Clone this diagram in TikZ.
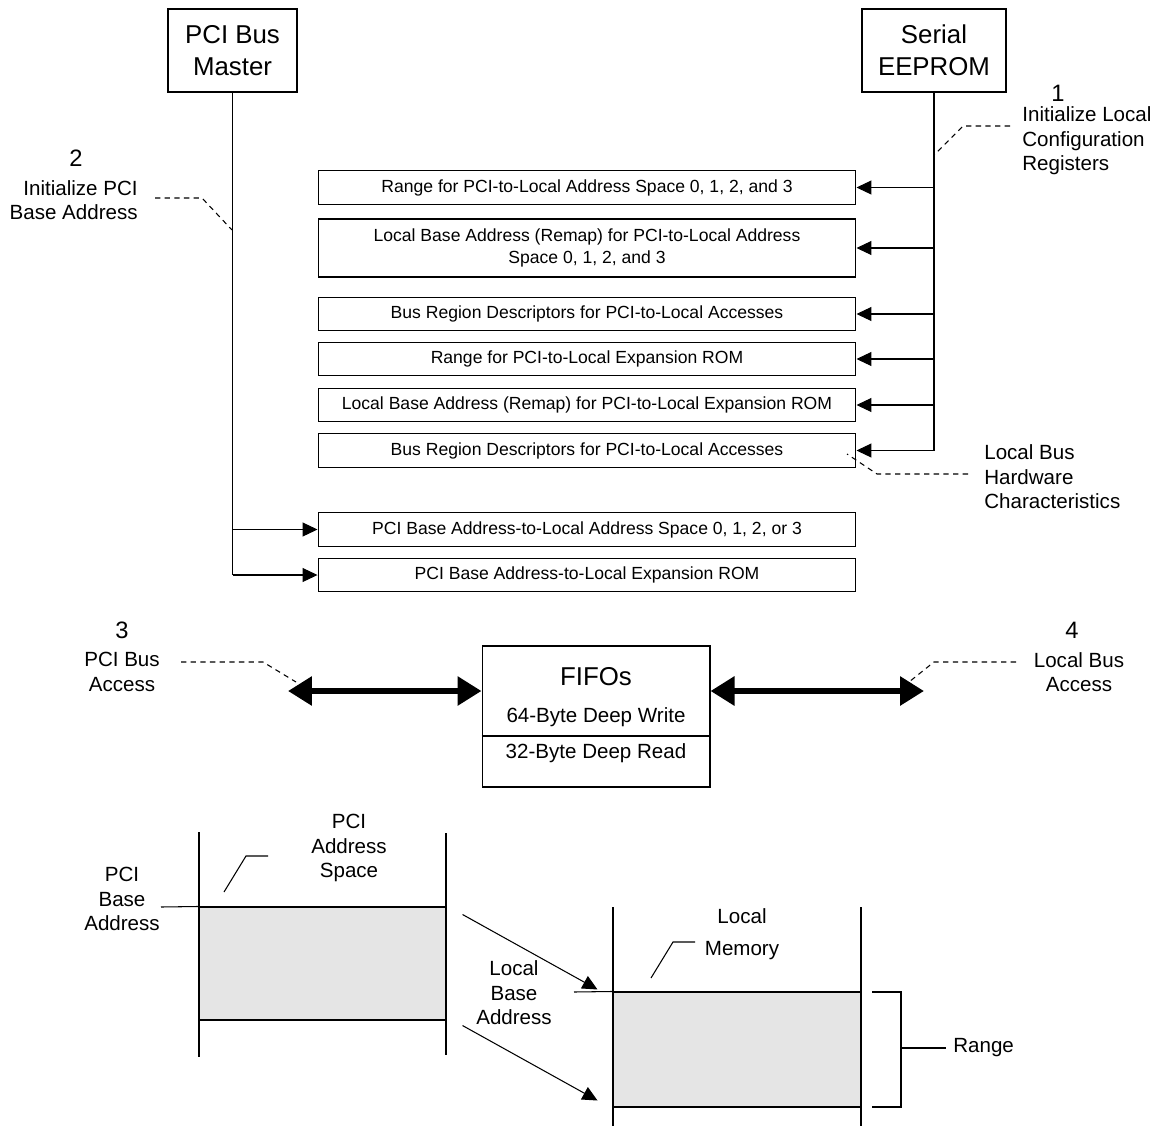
\documentclass[tikz,border=0pt]{standalone}
\usepackage{fontspec}
\setmainfont{Liberation Sans}
\usetikzlibrary{arrows.meta,positioning,calc}
\definecolor{ink}{RGB}{0,0,0}
\definecolor{shade}{RGB}{229,229,229}
\newcommand\hugetxt{\fontsize{14.7}{18.2}\selectfont}
\newcommand\numtxt{\fontsize{13.5}{16}\selectfont}
\newcommand\midtxt{\fontsize{11.7}{14}\selectfont}
\newcommand\regtxt{\fontsize{10}{13}\selectfont}
\tikzset{
  >={Triangle[length=3mm,width=2.8mm]},
  hostbox/.style={draw=ink,line width=0.6pt,minimum width=#1,minimum height=1.66cm,
    align=center,font=\hugetxt,inner sep=0pt},
  hostbox/.default=2.6cm,
  reg/.style={draw=ink,line width=0.6pt,minimum width=10.76cm,minimum height=0.67cm,
    align=center,font=\regtxt,inner sep=0pt},
  tag/.style={font=\midtxt,inner sep=0pt},
  num/.style={font=\numtxt,inner sep=0pt},
  wire/.style={draw=ink,line width=0.6pt},
  flow/.style={->,wire},
  lead/.style={draw=ink,line width=0.6pt,dash pattern=on 3pt off 2.5pt},
  bus/.style={{Triangle[length=4.8mm,width=5.6mm]}-{Triangle[length=4.8mm,width=5.6mm]},
    line width=3.4pt,draw=ink},
  memblock/.style={draw=ink,fill=shade,line width=0.6pt,inner sep=0pt},
}

\begin{document}
\begin{tikzpicture}[x=0.02cm,y=-0.02cm]
    \useasboundingbox (0,0) rectangle (1160,1126);
    % sources
    \node[hostbox=2.58cm] (pcim) at (232.5,50.5) {PCI Bus\\Master};
    \node[hostbox=2.88cm] (eeprom) at (934,50.5) {Serial\\EEPROM};
    % registers
    \foreach \n/\y/\h/\t in {
      1/187.5/0.67/{Range for PCI-to-Local Address Space 0, 1, 2, and 3},
      2/248/1.16/{Local Base Address (Remap) for PCI-to-Local Address\\Space 0, 1, 2, and 3},
      3/314/0.67/{Bus Region Descriptors for PCI-to-Local Accesses},
      4/359/0.67/{Range for PCI-to-Local Expansion ROM},
      5/405/0.67/{Local Base Address (Remap) for PCI-to-Local Expansion ROM},
      6/450.5/0.67/{Bus Region Descriptors for PCI-to-Local Accesses},
      7/529.5/0.67/{PCI Base Address-to-Local Address Space 0, 1, 2, or 3},
      8/575/0.67/{PCI Base Address-to-Local Expansion ROM}}
      \node[reg,minimum height=\h cm] (r\n) at (587,\y) {\t};
    \draw[wire] (eeprom.south) -- (eeprom.south |- r6.east);
    \foreach \n in {1,...,6} \draw[flow] (eeprom.south |- r\n.east) -- (r\n.east);
    \draw[wire] (pcim.south) -- (pcim.south |- r8.west);
    \foreach \n in {7,8} \draw[flow] (pcim.south |- r\n.west) -- (r\n.west);
    % step labels
    \node[num] (n1) at (1058,93) {1};
    \node[tag,align=left,anchor=west] (lbl1) at (1022,141) {Initialize Local\\Configuration\\Registers};
    \draw[lead] (lbl1.west) ++(-12,-15) -- ++(-47,0) -- ++(-29,29);
    \node[num] (n2) at (76,158) {2};
    \node[tag,align=right,anchor=east] (lbl2) at (138,200) {Initialize PCI\\Base Address};
    \draw[lead] (lbl2.east) ++(17,-2) -- ++(47,0) -- ++(30,32);
    \node[tag,align=left,anchor=west] (lbl6) at (984,477) {Local Bus\\Hardware\\Characteristics};
    \draw[lead] (lbl6.west) ++(-16,-3) -- ++(-91,0) -- ++(-30,-20);
    % FIFOs
    \node[draw=ink,line width=0.6pt,minimum width=4.56cm,minimum height=2.82cm] (fifo) at (596,716.5) {};
    \node[font=\hugetxt] (fifot) at (596,677) {FIFOs};
    \node[tag] (fifow) at (596,717) {64-Byte Deep Write};
    \node[tag] (fifor) at (596,753) {32-Byte Deep Read};
    \coordinate (split) at (596,736);
    \draw[wire] (split -| fifo.west) -- (split -| fifo.east);
    \coordinate (pcitip) at (288,691);
    \coordinate (loctip) at (924,691);
    \draw[bus] (pcitip) -- (pcitip -| fifo.west);
    \draw[bus] (loctip -| fifo.east) -- (loctip);
    \node[num] (n3) at (122,630) {3};
    \node[tag,align=center] (lbl3) at (122,672) {PCI Bus\\Access};
    \draw[lead] (lbl3.center) ++(59,-10) -- ++(82,0) -- ++(33,20);
    \node[num] (n4) at (1072,630) {4};
    \node[tag,align=center] (lbl4) at (1079,672) {Local Bus\\Access};
    \draw[lead] (lbl4.center) ++(-63,-10) -- ++(-82,0) -- ++(-25,20);
    % address spaces
    \node[memblock,minimum width=4.94cm,minimum height=2.26cm] (pcispace) at (322.5,963.5) {};
    \draw[wire] (199,832) -- (199,1057) (446,833) -- (446,1055);
    \draw[wire] (161,907) -- (pcispace.north west);
    \node[tag,align=center] (pcibase) at (122,899) {PCI\\Base\\Address};
    \node[tag,align=center] (pcispc) at (349,848) {PCI\\Address\\Space};
    \draw[wire] (pcispc.center) ++(-125,44) -- ++(22,-36) -- ++(22,0);
    \node[memblock,minimum width=4.96cm,minimum height=2.3cm] (lmem) at (737,1049.5) {};
    \draw[wire] (613,907) -- (613,1126) (861,907) -- (861,1126);
    \draw[wire] (574,992) -- (lmem.north west);
    \draw[wire] (872,992) -- (901,992) -- (901,1107) -- (872,1107) (901,1048) -- (946,1048);
    \node[tag,anchor=west] (range) at (953,1048) {Range};
    \node[tag,align=center] (lmemlbl) at (742,934) {Local\\[4pt]Memory};
    \draw[wire] (lmemlbl.center) ++(-91,44) -- ++(22,-36) -- ++(22,0);
    \node[tag,align=center] (lbase) at (514,993) {Local\\Base\\Address};
    \draw[flow] ([shift={(16,8)}]pcispace.north east) -- ([shift={(-15,-2)}]lmem.north west);
    \draw[flow] ([shift={(16,5)}]pcispace.south east) -- ([shift={(-15,-7)}]lmem.south west);
\end{tikzpicture}
\end{document}
